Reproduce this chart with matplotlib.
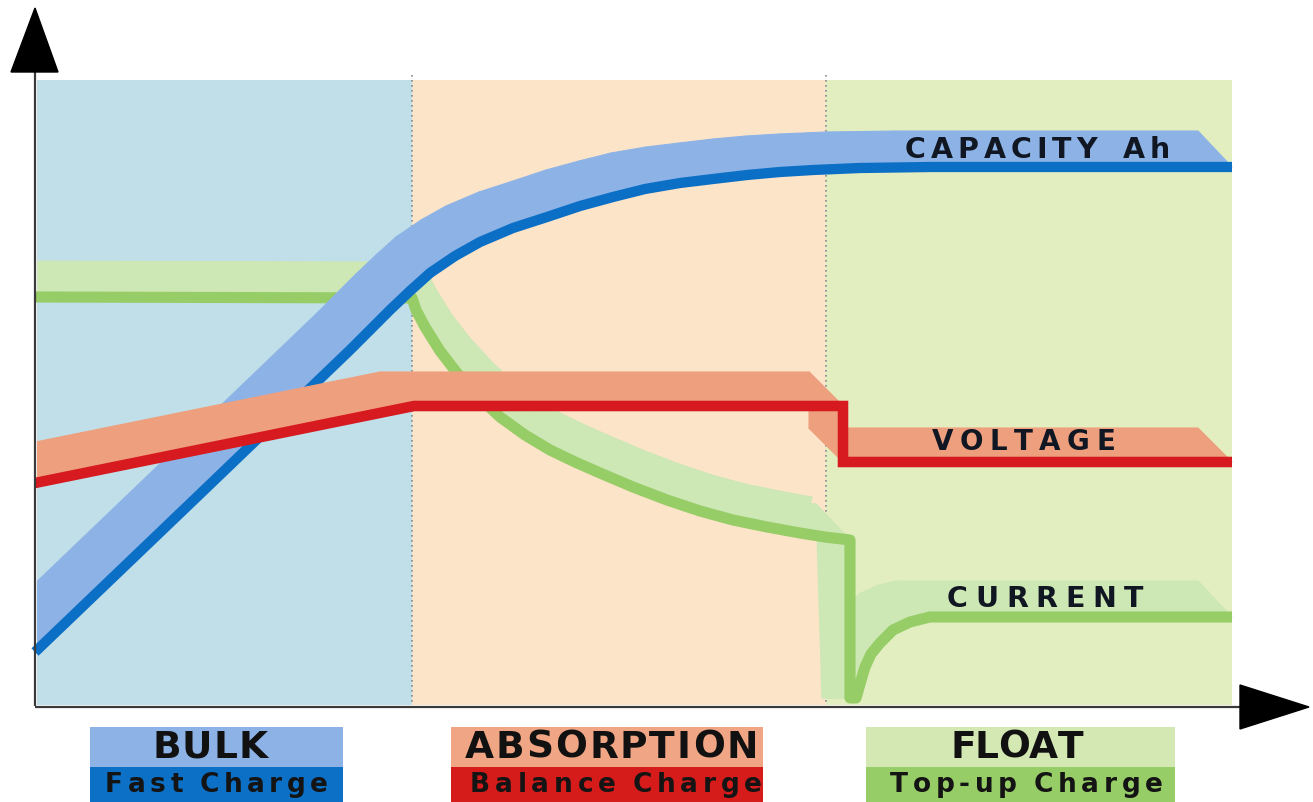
import matplotlib
matplotlib.use("Agg")
import matplotlib.pyplot as plt
from matplotlib.collections import PolyCollection
from matplotlib.patches import Rectangle, Polygon
from matplotlib.font_manager import FontProperties

# ---------------- data (chart units: x = time, y = level measured downward) ----------------
stage_names = ["BULK", "ABSORPTION", "FLOAT"]
stage_subtitles = ["Fast Charge", "Balance Charge", "Top-up Charge"]
stage_edges = [37, 412, 826, 1232]
region_top, region_bottom = 80, 705

capacity_x = [35, 200, 350, 390, 410, 430, 455, 480, 513, 547, 580, 613, 645, 680,
              713, 747, 780, 813, 860, 930, 1000, 1232]
capacity_y = [652, 494, 350, 310, 291, 273, 256, 242, 228, 217, 206, 197, 189, 183,
              179, 175, 172, 170, 168, 167, 167, 167]

voltage_x = [35, 414, 843, 843, 1232]
voltage_y = [483, 406, 406, 462, 462]

current_x = [35, 412, 416, 425, 440, 457, 478, 500, 525, 550, 575, 600, 633, 667,
             700, 733, 767, 800, 825, 850, 850, 856, 860, 865, 871, 880, 893, 910,
             930, 1232]
current_y = [297, 298, 310, 327, 351, 373, 396, 417, 435, 450, 462, 473, 487, 500,
             511, 520, 527, 533, 537, 540, 698, 698, 684, 667, 654, 643, 630, 622,
             617, 617]

series_labels = ["CAPACITY", "Ah", "VOLTAGE", "CURRENT"]

# ---------------- style ----------------
bg_colors = ["#c1dfe9", "#fce4c9", "#e3eec0"]
cap_light, cap_dark = "#8db3e6", "#0b6fc6"
vol_light, vol_dark = "#eea07e", "#d61a1f"
cur_light, cur_dark = "#cde7b5", "#97cd66"
legend_top = ["#8db3e6", "#f0a684", "#d3e8b3"]
legend_bot = ["#0b70c6", "#d61b1b", "#97cd66"]
legend_x = [(90, 343), (451, 763), (866, 1175)]
EX_DX, EX_DY = 34, 36

W, H = 1313, 802
fig = plt.figure(figsize=(W / 100, H / 100), dpi=100)
ax = fig.add_axes([0, 0, 1, 1])
ax.set_xlim(0, W)
ax.set_ylim(H, 0)
ax.axis("off")
fig.patch.set_facecolor("white")

# background stage regions
for i in range(3):
    ax.fill_between([stage_edges[i], stage_edges[i + 1]], region_top, region_bottom,
                    color=bg_colors[i], lw=0, zorder=1)
for xe in stage_edges[1:3]:
    ax.plot([xe, xe], [region_top - 5, region_bottom], color="#7f8c8f", lw=1.2,
            ls=(0, (1, 2)), zorder=2)

clip_rect = Rectangle((37, 0), W, H, transform=ax.transData)


def extruded(xs, ys, dxs, dys, light, dark, lw, z, join):
    polys = []
    for i in range(len(xs) - 1):
        p0 = (xs[i], ys[i])
        p1 = (xs[i + 1], ys[i + 1])
        polys.append([p0, p1, (p1[0] - dxs[i + 1], p1[1] - dys[i + 1]),
                      (p0[0] - dxs[i], p0[1] - dys[i])])
    pc = PolyCollection(polys, facecolors=light, edgecolors=light, linewidths=0.8, zorder=z)
    ax.add_collection(pc)
    pc.set_clip_path(clip_rect)
    ax.plot(xs, ys, color=dark, lw=lw, solid_joinstyle=join, solid_capstyle="butt",
            zorder=z + 0.5)


# current band leans to the right along the tapering section, and its shadow
# along the drop reaches down to the baseline
cur_dx, cur_dy = [], []
for i, (xv, yv) in enumerate(zip(current_x, current_y)):
    if 413 < xv < 820:
        cur_dx.append(-12)
    else:
        cur_dx.append(EX_DX)
    if i == current_y.index(max(current_y)):
        cur_dy.append(0)
        cur_dx[-1] = 28
    else:
        cur_dy.append(EX_DY)

extruded(current_x, current_y, cur_dx, cur_dy, cur_light, cur_dark, 8.0, 3, "round")
extruded(capacity_x, capacity_y, [EX_DX] * len(capacity_x), [EX_DY] * len(capacity_x),
         cap_light, cap_dark, 7.4, 4, "round")
extruded(voltage_x, voltage_y, [EX_DX] * len(voltage_x), [34] * len(voltage_x),
         vol_light, vol_dark, 7.6, 5, "miter")

# axes with arrows
ax.plot([35, 35], [706, 70], color="#3a3a3a", lw=1.6, zorder=6, solid_capstyle="butt")
ax.plot([35, 1242], [707, 707], color="#3a3a3a", lw=1.6, zorder=6, solid_capstyle="butt")
ax.add_patch(Polygon([(35, 8), (11, 72), (58, 72)], closed=True, color="black", zorder=7))
ax.add_patch(Polygon([(1309, 707), (1240, 685), (1240, 729)], closed=True, color="black", zorder=7))

renderer = fig.canvas.get_renderer()


def spaced(x0, x1, base, s, size, color, z=8):
    fp = FontProperties(family="DejaVu Sans", weight="bold", size=size)
    em = size * 100 / 72
    widths = []
    for ch in s:
        if ch == " ":
            widths.append(0.28 * em)
        else:
            w, h, d = renderer.get_text_width_height_descent(ch, fp, ismath=False)
            widths.append(w)
    n = len(s)
    track = (x1 - x0 - sum(widths)) / (n - 1) if n > 1 else 0
    x = x0
    for ch, w in zip(s, widths):
        if ch != " ":
            ax.text(x, base, ch, fontproperties=fp, ha="left", va="baseline",
                    color=color, zorder=z)
        x += w + track


# series labels
lab_col = "#101722"
spaced(905, 1097, 158, series_labels[0], 20.5, lab_col)
spaced(1123, 1170, 158, series_labels[1], 20.5, lab_col)
spaced(932, 1115, 450, series_labels[2], 20.0, lab_col)
spaced(947, 1143, 607, series_labels[3], 20.5, lab_col)

# legend boxes
title_span = [(152, 268), (465, 758), (950, 1083)]
sub_span = [(105, 328), (470, 762), (890, 1163)]
for i in range(3):
    xa, xb = legend_x[i]
    ax.add_patch(Rectangle((xa, 727), xb - xa, 40, color=legend_top[i], lw=0, zorder=6))
    ax.add_patch(Rectangle((xa, 767), xb - xa, 40, color=legend_bot[i], lw=0, zorder=6))
    spaced(title_span[i][0], title_span[i][1], 758, stage_names[i], 27, "#111111")
    spaced(sub_span[i][0], sub_span[i][1], 792, stage_subtitles[i], 19, "#141414")

fig.savefig("out.png", dpi=100, facecolor="white")
